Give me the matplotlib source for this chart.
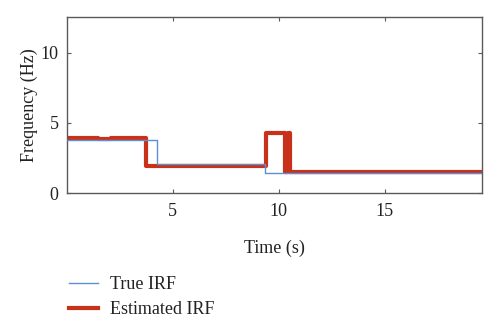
import matplotlib
matplotlib.use('Agg')
import matplotlib.pyplot as plt

# ── Data ────────────────────────────────────────────────────────
true_t = [0.0, 4.25, 9.35, 19.6]
true_f = [3.76, 2.08, 1.42, 1.42]

est_t = [0.0, 1.45, 2.1, 3.0, 3.72, 7.5, 8.9, 9.42, 10.3, 10.45, 10.55, 19.6]
est_f = [3.91, 3.88, 3.9, 3.92, 1.93, 1.95, 1.92, 4.28, 1.5, 4.28, 1.5, 1.5]

RED = '#C8321A'
BLUE = '#5E8FD6'
SPINE = '#5a5a5a'

plt.rcParams['font.family'] = ['Liberation Serif', 'DejaVu Serif']

fig = plt.figure(figsize=(5, 3.3), dpi=100)
fig.patch.set_facecolor('white')
ax = fig.add_axes([0.134, 0.415, 0.83, 0.533])

ax.step(true_t, true_f, where='post', color=BLUE, lw=1.0, label='True IRF', zorder=3)
ax.step(est_t, est_f, where='post', color=RED, lw=3.0, label='Estimated IRF', zorder=2)

ax.set_xlim(0, 19.6)
ax.set_ylim(0, 12.55)
ax.set_xticks([5, 10, 15])
ax.set_yticks([0, 5, 10])
ax.tick_params(direction='in', top=True, right=True, length=3, width=0.8,
               colors=SPINE, labelcolor='#222222', labelsize=13)
ax.tick_params(axis='x', pad=7)
ax.tick_params(axis='y', pad=6)
for s in ax.spines.values():
    s.set_color(SPINE)
    s.set_linewidth(1.0)

ax.set_xlabel('Time (s)', fontsize=13, color='#222222', labelpad=14)
ax.set_ylabel('Frequency (Hz)', fontsize=13, color='#222222', labelpad=2)

fig.legend(loc='center left', bbox_to_anchor=(0.105, 0.1), frameon=False,
           fontsize=13, handlelength=1.6, labelspacing=0.45, handletextpad=0.7,
           labelcolor='#222222')

fig.savefig('out.png', dpi=100, facecolor='white')
